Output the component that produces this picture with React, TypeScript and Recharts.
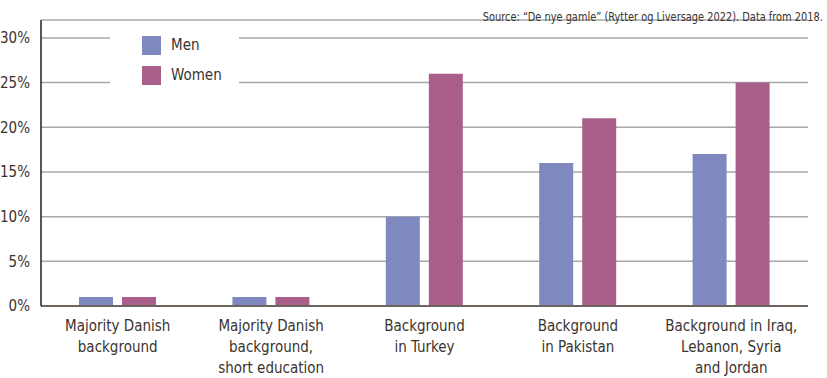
import React from 'react';
import { BarChart, Bar, XAxis, YAxis, CartesianGrid } from 'recharts';

const categories = [
  ['Majority Danish', 'background'],
  ['Majority Danish', 'background,', 'short education'],
  ['Background', 'in Turkey'],
  ['Background', 'in Pakistan'],
  ['Background in Iraq,', 'Lebanon, Syria', 'and Jordan'],
];
const men = [1, 1, 10, 16, 17];
const women = [1, 1, 26, 21, 25];
const yTicks = [0, 5, 10, 15, 20, 25, 30];

const data = categories.map((lines, i) => ({
  name: lines.join(' '),
  men: men[i],
  women: women[i],
}));

const FONT = "'Liberation Sans Narrow', 'DejaVu Sans Condensed', sans-serif";
const TEXT = '#3a3330';
const MEN = '#7f88bf';
const WOMEN = '#a95f8a';

const CategoryTick = (props: any) => {
  const { x, y, payload } = props;
  const lines = categories[payload.index] || [payload.value];
  return (
    <text x={x} y={y} textAnchor="middle" fill={TEXT} fontSize={15} fontFamily={FONT}>
      {lines.map((l: string, i: number) => (
        <tspan key={i} x={x} dy={i === 0 ? 17 : 21}>{l}</tspan>
      ))}
    </text>
  );
};

const series = [
  { label: 'Men', c: MEN },
  { label: 'Women', c: WOMEN },
];

export default function App() {
  return (
    <div style={{ position: 'absolute', left: 0, top: 0, width: 827, height: 378, background: '#fff' }}>
      <BarChart
        width={827}
        height={378}
        data={data}
        margin={{ top: 20, right: 19, bottom: 0, left: 8 }}
        barSize={34}
        barGap={9}
      >
        <CartesianGrid horizontal vertical={false} stroke="#a8a8a8" strokeWidth={1.5} />
        <XAxis
          dataKey="name"
          tick={<CategoryTick />}
          tickLine={false}
          axisLine={{ stroke: '#6d645e', strokeWidth: 2 }}
          interval={0}
          height={72}
        />
        <YAxis
          domain={[0, 32]}
          ticks={yTicks}
          tickFormatter={(v: number) => `${v}%`}
          tickLine={false}
          axisLine={{ stroke: '#231f20', strokeWidth: 1.5 }}
          tick={{ fill: TEXT, fontSize: 15, fontFamily: FONT }}
          tickMargin={5}
          width={33}
        />
        <Bar dataKey="men" name="Men" fill={MEN} isAnimationActive={false} />
        <Bar dataKey="women" name="Women" fill={WOMEN} isAnimationActive={false} />
      </BarChart>
      <div
        style={{
          position: 'absolute',
          left: 110,
          top: 26,
          width: 129,
          height: 66,
          background: '#fff',
          fontFamily: FONT,
        }}
      >
        {series.map((it, i) => (
          <div key={it.label} style={{ position: 'absolute', left: 32, top: 10 + i * 30, display: 'flex', alignItems: 'center' }}>
            <div style={{ width: 19, height: 19, background: it.c }} />
            <span style={{ marginLeft: 10, fontSize: 15, color: TEXT, lineHeight: '19px' }}>{it.label}</span>
          </div>
        ))}
      </div>
      <div
        style={{
          position: 'absolute',
          right: 4,
          top: 9,
          fontFamily: FONT,
          fontSize: 13,
          color: TEXT,
          whiteSpace: 'nowrap',
          transform: 'scaleX(0.84)',
          transformOrigin: 'right center',
        }}
      >
        Source: “De nye gamle” (Rytter og Liversage 2022). Data from 2018.
      </div>
    </div>
  );
}
